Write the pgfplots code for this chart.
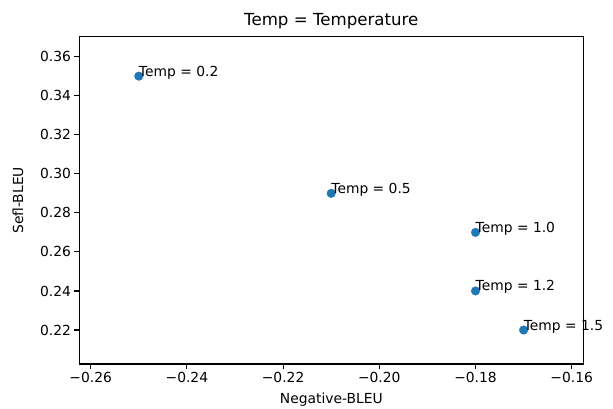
\documentclass[border=0pt]{standalone}
\usepackage{pgfplots}
\pgfplotsset{compat=1.18}
\usepackage{fontspec}
\setmainfont{DejaVu Sans}
\definecolor{mplblue}{HTML}{1F77B4}
\begin{document}
\begin{tikzpicture}[x=1bp,y=1bp]
\begin{axis}[
  at={(0,0)}, anchor=south west,
  scale only axis,
  width=504bp, height=327.3bp,
  xmin=-0.26237, xmax=-0.15759,
  ymin=0.2026, ymax=0.3702,
  xtick={-0.26,-0.24,-0.22,-0.20,-0.18,-0.16},
  xticklabels={−0.26,−0.24,−0.22,−0.20,−0.18,−0.16},
  ytick={0.22,0.24,0.26,0.28,0.30,0.32,0.34,0.36},
  yticklabels={0.22,0.24,0.26,0.28,0.30,0.32,0.34,0.36},
  tick align=outside,
  tick pos=left,
  major tick length=4.9bp,
  every tick/.style={black, line width=1.1bp},
  axis line style={black, line width=1.1bp},
  ticklabel style={font=\fontsize{13.9}{16}\selectfont},
  label style={font=\fontsize{13.9}{16}\selectfont},
  title style={font=\fontsize{16.7}{19}\selectfont, yshift=-2bp},
  title={Temp = Temperature},
  xlabel={Negative-BLEU},
  ylabel={Sefl-BLEU},
  xlabel style={yshift=-3bp},
  ylabel style={yshift=10bp},
  clip=false,
]
\addplot[only marks, mark=*, mark size=4.3bp, mplblue, mark options={draw=mplblue, fill=mplblue},
  nodes near coords,
  point meta=explicit symbolic,
  every node near coord/.style={anchor=base west, inner sep=0pt, black, font=\fontsize{13.9}{16}\selectfont},
] table[meta=label, col sep=comma] {
x,y,label
-0.25,0.35,Temp = 0.2
-0.21,0.29,Temp = 0.5
-0.18,0.27,Temp = 1.0
-0.18,0.24,Temp = 1.2
-0.17,0.22,Temp = 1.5
};
\end{axis}
\pgfresetboundingbox
\path (-79.3bp,-45bp) rectangle (533.7bp,364bp);
\end{tikzpicture}
\end{document}
